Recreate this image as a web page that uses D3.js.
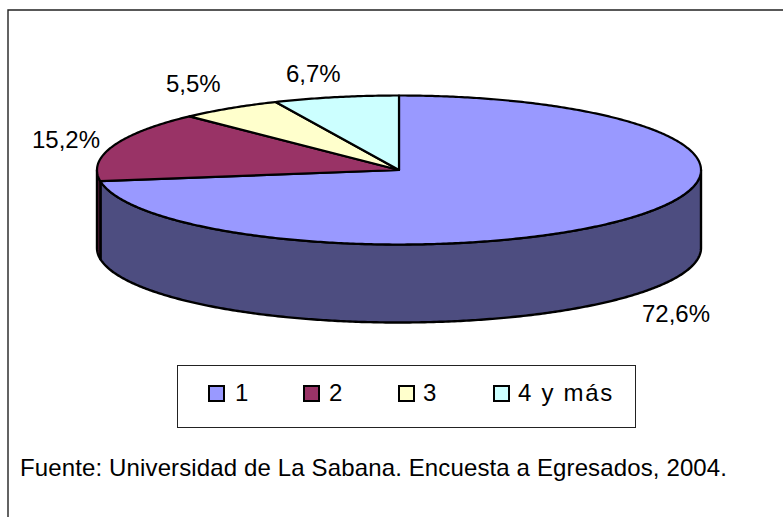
<!DOCTYPE html>
<html><head><meta charset="utf-8"><style>html,body{margin:0;background:#fff}svg{display:block}text{font-family:"Liberation Sans",Arial,sans-serif;fill:#000}</style>
<script src="https://cdn.jsdelivr.net/npm/d3@7/dist/d3.min.js"></script></head><body><script>
const categories=["1","2","3","4 y más"];
const values=[72.6,15.2,5.5,6.7];
const valueLabels=["72,6%","15,2%","5,5%","6,7%"];
const topColors=["#9999ff","#993366","#ffffcc","#ccffff"];
const sideColors=["#4d4d80","#4d1a33","#808066","#668080"];
const source="Fuente: Universidad de La Sabana. Encuesta a Egresados, 2004.";

const W=783,H=517,cx=399,cy=170,rx=302,ry=74.5,depth=78;
const svg=d3.select("body").append("svg").attr("width",W).attr("height",H);
svg.append("path").attr("d",`M8,517V10H783`).attr("fill","none").attr("stroke","#222").attr("stroke-width",1.4);
const x=d3.scaleLinear().domain([-1,1]).range([cx-rx,cx+rx]);
const y=d3.scaleLinear().domain([-1,1]).range([cy-ry,cy+ry]);
const pie=d3.pie().sort(null)(values);
const samples=(a,b)=>{const n=Math.max(2,Math.ceil((b-a)/0.01));return d3.range(n+1).map(i=>a+(b-a)*i/n)};
const pt=(a,dz=0)=>[x(Math.sin(a)),y(-Math.cos(a))+dz];
const line=d3.line();
const g=svg.append("g").attr("stroke","#000").attr("stroke-linejoin","round");
pie.forEach((d,i)=>{
 const a=Math.max(d.startAngle,Math.PI/2),b=Math.min(d.endAngle,Math.PI*1.5);
 if(b>a){const s=samples(a,b);
  g.append("path").attr("fill",sideColors[i]).attr("stroke-width",2.4)
   .attr("d",line([...s.map(t=>pt(t)),...s.slice().reverse().map(t=>pt(t,depth))])+"Z");}
});
pie.forEach((d,i)=>{
 const s=samples(d.startAngle,d.endAngle);
 g.append("path").attr("fill",topColors[i]).attr("stroke-width",2.2)
  .attr("d",line([[cx,cy],...s.map(t=>pt(t))])+"Z");
});
const labelPos=[[642,322],[32,148],[166,92],[286,82]];
valueLabels.forEach((t,i)=>svg.append("text").attr("x",labelPos[i][0]).attr("y",labelPos[i][1]).attr("font-size",24).text(t));
svg.append("rect").attr("x",177.5).attr("y",365.5).attr("width",458).attr("height",62).attr("fill","#fff").attr("stroke","#222");
const swX=[209,304,399,494],txX=[235,329,423,518];
categories.forEach((c,i)=>{
 svg.append("rect").attr("x",swX[i]).attr("y",386).attr("width",15).attr("height",15).attr("fill",topColors[i]).attr("stroke","#000").attr("stroke-width",2);
 svg.append("text").attr("x",txX[i]).attr("y",401).attr("font-size",24).attr("letter-spacing",i===3?1.7:0).text(c);
});
svg.append("text").attr("x",20).attr("y",476).attr("font-size",24).attr("textLength",707).text(source);
</script></body></html>
